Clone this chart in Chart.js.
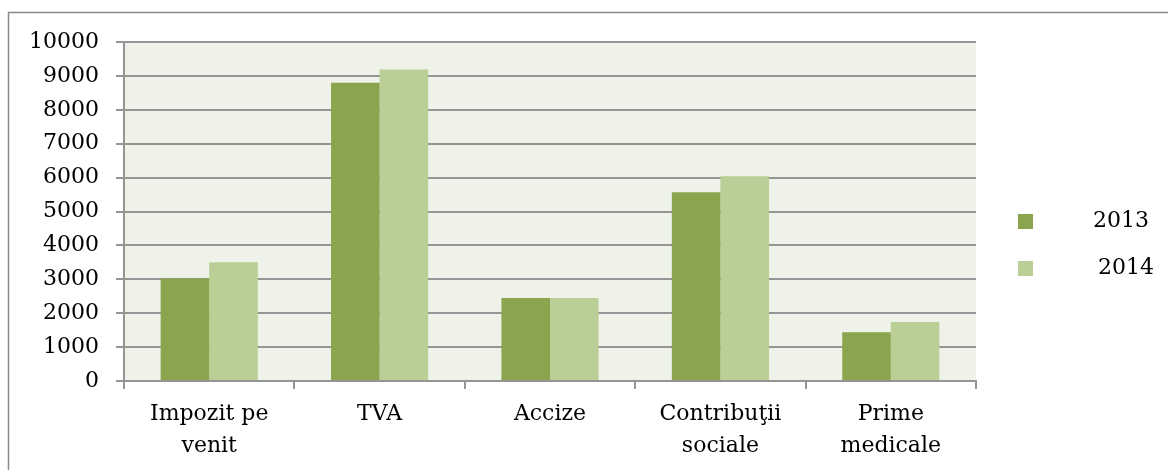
<!DOCTYPE html>
<html>
<head>
<meta charset="utf-8">
<script src="https://cdn.jsdelivr.net/npm/chart.js@4/dist/chart.umd.min.js"></script>
<style>
  html, body { margin: 0; padding: 0; background: #fff; overflow: hidden; }
  #wrap { width: 1168px; height: 470px; }
</style>
</head>
<body>
<div id="wrap"><canvas id="taxChart"></canvas></div>
<script>
// data
var categories = [['Impozit pe', 'venit'], 'TVA', 'Accize', ['Contribuţii', 'sociale'], ['Prime', 'medicale']];
var seriesNames = ['2013', '2014'];
var values2013 = [3020, 8800, 2450, 5570, 1440];
var values2014 = [3500, 9190, 2450, 6040, 1740];
var yTicks = [0, 1000, 2000, 3000, 4000, 5000, 6000, 7000, 8000, 9000, 10000];

var fontFamily = '"DejaVu Serif", serif';
var gridColor = '#959595';

// frame + plot background
var backdrop = {
  id: 'backdrop',
  beforeDraw: function (chart) {
    var ctx = chart.ctx, a = chart.chartArea;
    ctx.save();
    ctx.fillStyle = '#eff2e8';
    ctx.fillRect(a.left, a.top, a.right - a.left, a.bottom - a.top);
    ctx.strokeStyle = '#8a8a8a';
    ctx.lineWidth = 1.5;
    ctx.strokeRect(8.5, 12.5, chart.width + 20, chart.height + 20);
    ctx.restore();
  }
};

// legend on the right, drawn by hand
var sideLegend = {
  id: 'sideLegend',
  afterDraw: function (chart) {
    var ctx = chart.ctx, a = chart.chartArea;
    ctx.save();
    ctx.font = '22px ' + fontFamily;
    ctx.textBaseline = 'middle';
    chart.data.datasets.forEach(function (ds, i) {
      var y = 221 + i * 47;
      ctx.fillStyle = ds.backgroundColor;
      ctx.fillRect(a.right + 42, y - 7, 15, 15);
      ctx.fillStyle = '#000';
      ctx.fillText(ds.label, a.right + 117 + i * 5, y);
    });
    ctx.restore();
  }
};

var myBarChart = new Chart(document.getElementById('taxChart'), {
  type: 'bar',
  data: {
    labels: categories,
    datasets: [
      { label: seriesNames[0], data: values2013, backgroundColor: '#8aa54e' },
      { label: seriesNames[1], data: values2014, backgroundColor: '#b9cf96' }
    ]
  },
  options: {
    responsive: true,
    maintainAspectRatio: false,
    animation: false,
    layout: { padding: { left: 0, top: 42, right: 192, bottom: 0 } },
    datasets: { bar: { categoryPercentage: 0.57, barPercentage: 1.0 } },
    plugins: {
      legend: { display: false },
      tooltip: { enabled: false }
    },
    scales: {
      x: {
        afterFit: function (scale) { scale.height = 89; },
        grid: { drawOnChartArea: false, drawTicks: true, tickLength: 8, color: gridColor, lineWidth: 2 },
        border: { color: gridColor, width: 2 },
        ticks: {
          color: '#000',
          padding: 9,
          maxRotation: 0,
          font: { family: fontFamily, size: 22, lineHeight: 1.45 }
        }
      },
      y: {
        min: 0,
        max: 10000,
        afterFit: function (scale) { scale.width = 124; },
        afterBuildTicks: function (scale) {
          scale.ticks = yTicks.map(function (v) { return { value: v }; });
        },
        grid: { color: gridColor, lineWidth: 2, tickLength: 8 },
        border: { color: gridColor, width: 2 },
        ticks: {
          color: '#000',
          padding: 17,
          font: { family: fontFamily, size: 22 },
          callback: function (v) { return String(v); }
        }
      }
    }
  },
  plugins: [backdrop, sideLegend]
});
</script>
</body>
</html>
